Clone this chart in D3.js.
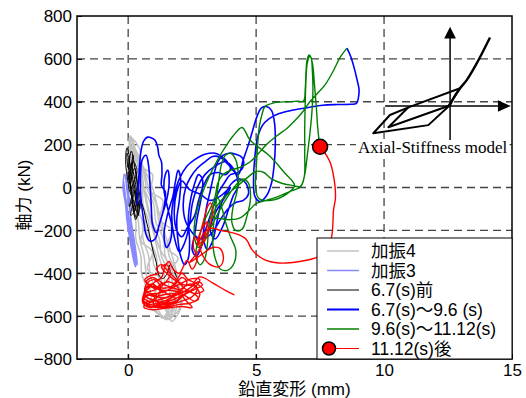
<!DOCTYPE html>
<html><head><meta charset="utf-8">
<script src="https://cdn.jsdelivr.net/npm/d3@7"></script>
<style>body{margin:0;background:#fff}</style>
</head><body><svg id="c" width="526" height="398"></svg>
<script>
const xTicks=[0,5,10,15];
const yTicks=[-800,-600,-400,-200,0,200,400,600,800];
const xGrid=[0,5,10];
const yGrid=[-600,-400,-200,0,200,400,600];
const seriesNames=["加振4","加振3","6.7(s)前","6.7(s)～9.6 (s)","9.6(s)～11.12(s)","11.12(s)後"];
const seriesColors=["#c2c2c2","#8888ff","#000000","#0000ff","#008000","#ff0000"];

const gray4=[
 [0.03,230],[0.1,150],[0.08,80],[0.18,0],[0.14,-80],[0.3,-160],[0.3,-240],[0.5,-320],[0.52,-400],[0.72,-470],[0.78,-540],[1.3,-600],
 [1.6,-610],[1.75,-540],[1.58,-470],[1.6,-400],[1.3,-320],[1.22,-240],[0.95,-160],[0.88,-80],[0.62,0],[0.52,80],[0.25,150],[0.12,235],
 [0.05,225],[0.25,150],[0.3,80],[0.55,0],[0.58,-80],[0.8,-160],[0.85,-240],[1.1,-320],[1.15,-400],[1.35,-470],[1.35,-540],[1.6,-590],
 [1.85,-590],[2.05,-540],[1.9,-470],[1.9,-400],[1.6,-320],[1.5,-240],[1.2,-160],[1.1,-80],[0.8,0],[0.62,80],[0.35,150],[0.15,230],
 [0.07,240],[0.18,150],[0.2,80],[0.36,0],[0.35,-80],[0.55,-160],[0.58,-240],[0.8,-320],[0.85,-400],[1.02,-470],[1.08,-540],[1.45,-615],
 [1.75,-600],[1.9,-540],[1.72,-470],[1.75,-400],[1.45,-320],[1.38,-240],[1.08,-160],[1.0,-80],[0.72,0],[0.58,80],[0.3,150],[0.1,225],
 [0.04,215],[0.12,150],[0.15,80],[0.25,0],[0.28,-80],[0.4,-160],[0.45,-240],[0.62,-320],[0.7,-400],[0.85,-470],[0.95,-540],[1.35,-610],
 [1.5,-600],[1.6,-540],[1.45,-470],[1.4,-400],[1.2,-320],[1.05,-240],[0.88,-160],[0.72,-80],[0.6,0],[0.42,80],[0.28,150],[0.1,240],
 [0.2,200],[0.4,150],[0.65,80],[0.95,0],[1.12,-80],[1.3,-160],[1.5,-240],[1.72,-320],[1.9,-400],[2.0,-470],[2.1,-540],[1.9,-600],
 [1.7,-625],[1.5,-560],[1.25,-500],[1.3,-430],[1.0,-360],[0.95,-280],[0.7,-200],[0.65,-120],[0.45,-40],[0.4,40],[0.18,120],[0.05,180],
 [0.2,100],[0.15,40],[0.4,-30],[0.3,-100],[0.65,-170],[0.5,-250],[0.95,-300],[0.75,-380],[1.3,-430],[1.05,-500],[1.6,-550],[1.4,-610],
 [1.8,-570],[1.6,-500],[2.05,-450],[1.7,-380],[1.95,-330],[1.5,-280],[1.7,-200],[1.25,-150],[1.35,-60],[0.9,-20],[0.95,60],[0.5,100],
 [0.45,180],[0.15,230],[0.28,170],[0.5,60],[0.7,-50],[1.0,-200],[1.25,-290],[1.55,-350],[1.7,-430],[1.85,-510],[1.55,-600]
];
const kashin3=[
 [-0.15,65],[-0.2,0],[-0.1,-80],[-0.05,-150],[0.05,-230],[0.15,-300],[0.28,-370],[0.3,-330],[0.2,-250],[0.1,-170],[0.05,-90],
 [-0.05,-10],[-0.1,60],[-0.05,20],[0.05,-60],[0.1,-140],[0.2,-220],[0.3,-300],[0.35,-360],[0.22,-320],[0.12,-240],[0.0,-150],
 [-0.12,-60],[-0.18,30],[-0.12,-30],[-0.02,-110],[0.08,-200],[0.2,-280],[0.25,-340]
];
const before67=[
 [0.0,20],[-0.1,120],[-0.05,185],[0.05,140],[0.0,60],[0.15,-20],[0.05,-90],[0.2,-40],[0.1,80],[0.2,150],[0.15,60],[0.3,-30],
 [0.2,-110],[0.35,-60],[0.25,40],[0.1,110],[0.05,30],[0.25,-80],[0.4,-130],[0.3,-20],[0.45,-100],[0.3,60],[0.12,170],[0.0,90],
 [-0.05,160],[0.08,100],[0.02,0],[0.18,-60],[0.1,-130],[0.3,-100],[0.22,20],[0.35,80],[0.2,120],[0.08,50],[0.15,-40],[0.32,-140],
 [0.48,-80],[0.38,10],[0.25,90],[0.1,30],[0.3,-150],[0.45,-60],[0.55,-80],[0.7,-150],[0.85,-230],[0.98,-300],[1.1,-350],
 [1.2,-410],[1.35,-425],[1.5,-405],[1.65,-360],[1.8,-390],[1.9,-420]
];
const mid=[
 [0.35,-80],[0.4,20],[0.45,110],[0.5,170],[0.6,215],[0.75,235],[0.9,232],[1.05,220],[1.15,190],[1.2,150],[1.3,120],[1.32,60],
 [1.3,10],[1.45,-20],[1.4,-90],[1.25,-160],[1.1,-210],[0.95,-170],[0.9,-80],[0.85,20],[0.8,100],[0.7,150],[0.55,130],[0.48,50],
 [0.5,-50],[0.6,-150],[0.7,-220],[0.85,-250],[1.05,-240],[1.2,-180],[1.35,-120],[1.5,-60],[1.6,20],[1.55,80],[1.45,60],[1.4,-10],
 [1.55,-100],[1.7,-180],[1.65,-250],[1.5,-280],[1.4,-220],[1.55,-120],[1.75,-40],[1.85,30],[1.95,80],[2.05,40],[2.0,-60],
 [1.9,-150],[1.95,-250],[2.05,-320],[2.2,-360],[2.35,-330],[2.4,-250],[2.35,-150],[2.45,-50],[2.6,20],[2.75,60],[2.9,40],
 [2.85,-50],[2.7,-140],[2.6,-220],[2.5,-290],[2.65,-320],[2.85,-280],[2.95,-200],[3.05,-100],[3.2,-20],[3.35,60],[3.5,120],
 [3.7,150],[3.95,160],[4.2,155],[4.45,140],[4.5,100],[4.3,70],[4.0,60],[3.75,20],[3.5,-30],[3.3,-100],[3.1,-170],[2.95,-240],
 [3.1,-290],[3.3,-250],[3.45,-170],[3.6,-90],[3.8,-30],[4.05,20],[4.35,40],[4.6,20],[4.7,-30],[4.5,-60],[4.2,-70],[3.9,-100],
 [3.6,-150],[3.35,-200],[3.1,-230],[2.8,-240],[2.5,-210],[2.25,-160],[2.15,-80],[2.25,0],[2.45,50],[2.7,90],[3.0,120],[3.3,145],
 [3.6,140],[3.85,115],[4.0,90],[3.8,60],[3.5,70],[3.2,60],[2.95,10],[2.75,-60],[2.6,-130],[2.3,-190],[2.1,-230],[1.9,-200],
 [1.8,-120],[1.9,-20],[2.1,30],[2.4,-10],[2.8,-30],[3.2,-60],[3.6,-40],[4.0,0],
 [3.7,-60],[3.4,-120],[3.2,-200],[3.4,-240],[3.7,-180],[3.9,-110],[4.1,-40],[4.3,10],[4.1,90],[3.8,120],[3.4,100],[3.0,60],
 [2.7,0],[2.5,-80],[2.4,-170],[2.2,-260],[2.0,-300],[1.8,-230],[1.7,-130],[1.8,-40],[2.0,40],[2.3,100],[2.6,130],[3.0,155],
 [3.4,160],[3.8,130],[4.1,80],
 [4.3,60],[4.5,130],[4.7,200],[4.85,260],[5.0,320],
 [5.2,370],[5.4,378],[5.6,360],[5.72,300],[5.75,200],[5.7,100],[5.6,20],[5.4,-40],[5.15,-65],[4.95,-40],[4.9,40],[4.95,140],
 [5.05,230],[5.25,290],[5.5,320],[5.9,345],[6.4,360],[7.0,372],[7.6,384],[8.2,387],[8.7,388],[8.92,392],[9.0,420],[9.02,460],
 [8.95,500],[8.85,550],[8.7,610],[8.55,650]
];
const late=[
 [8.55,650],[8.3,610],[8.0,540],[7.7,480],[7.4,440],[7.1,400],[6.8,350],[6.5,310],[6.2,275],[5.8,240],[5.4,200],[5.1,160],
 [4.77,120],[4.4,95],[4.0,80],[3.7,60],[3.5,20],[3.4,-40],[3.2,-100],[3.0,-150],[2.85,-200],[2.7,-260],[2.65,-320],[2.8,-360],
 [3.0,-330],[3.1,-260],[3.15,-180],[3.3,-100],[3.5,-50],[3.65,-90],[3.8,-160],[4.0,-230],[4.2,-290],[4.15,-350],[3.9,-385],
 [3.6,-380],[3.4,-330],[3.3,-250],[3.35,-160],[3.45,-60],[3.55,40],[3.65,110],[3.8,150],[4.0,160],[4.2,130],[4.3,60],[4.25,-20],
 [4.1,-90],[4.05,-160],[4.2,-200],[4.45,-195],[4.65,-130],[4.78,-50],[4.7,20],[4.5,40],[4.2,10],[3.9,-40],[3.6,-100],[3.3,-170],
 [3.0,-230],[2.75,-280],[2.6,-240],[2.6,-160],[2.75,-80],[2.95,-10],[3.2,60],[3.5,130],[3.8,190],[4.1,240],[4.45,280],[4.77,220],
 [5.5,150],[6.1,70],[6.5,10],[6.2,-30],[5.6,-60],[5.1,-50],[4.98,0],[5.0,80],[5.05,180],[5.12,280],[5.25,350],[5.35,378],
 [5.7,395],[6.2,400],[6.6,402],[6.85,403],[6.92,460],[6.95,540],[7.0,600],[7.07,618],[7.15,605],[7.2,540],[7.22,450],[7.18,350],
 [7.1,250],[7.0,150],[6.9,60],[6.75,5],[6.4,-15],[5.9,-40],[5.4,-60],[5.0,-75],[4.7,-110],[4.4,-140],[4.0,-150],[3.6,-145],
 [3.3,-137],[3.45,-90],[3.8,-40],[4.2,0],[4.6,40],[5.0,75],[5.3,70],[5.6,40],[6.0,20],[6.4,10],[6.72,5],[6.88,50],[6.9,150],
 [6.9,280],[6.92,400],[6.95,500],[7.0,580],[7.1,612],[7.2,580],[7.28,480],[7.35,380],[7.4,290],[7.45,230],[7.5,190]
];
const after=[
 [7.5,190],[7.75,150],[7.9,115],[8.0,70],[8.08,10],[8.1,-50],[8.02,-110],[8.0,-170],[7.95,-230],[7.75,-290],[7.4,-325],
 [6.7,-345],[5.9,-352],[5.3,-335],[4.85,-292],[4.6,-240],[4.2,-215],[3.6,-200],[3.25,-190],[2.95,-215],[2.7,-270],[2.85,-200],
 [3.0,-130],[3.12,-85],[3.22,-72],[3.3,-115],[3.2,-175],[3.05,-235],[2.8,-285],[2.6,-320],[2.4,-350],
 [2.9,-310],[3.3,-280],[3.6,-285],[3.72,-335],[3.55,-370],[3.15,-355],[2.85,-300],[2.75,-240],[2.9,-190],[3.1,-160],[3.0,-220],
 [2.8,-260],[2.6,-230],[2.55,-280],[2.7,-330],[2.5,-380],[2.3,-340],
 [2.0,-400],[1.75,-380],[1.6,-345],[1.45,-365],[1.3,-420],[1.05,-440],[0.8,-470],[0.6,-500],[0.58,-540],
 [0.75,-555],[1.1,-550],[1.5,-535],[1.9,-515],[2.3,-490],[2.65,-460],[2.8,-430],[2.5,-425],[2.1,-445],[1.7,-470],[1.3,-490],
 [0.9,-495],[0.65,-480],[0.75,-445],[1.0,-430],[1.25,-460],[1.15,-510],[0.85,-530],[0.62,-515],[0.7,-470],[1.0,-460],[1.4,-470],
 [1.8,-455],[2.1,-420],[2.3,-440],[2.0,-490],[1.6,-520],[1.2,-540],[0.9,-560],[0.65,-550],[0.6,-520],[0.9,-500],[1.3,-515],
 [1.7,-505],[2.1,-470],[2.45,-450],[2.7,-470],[2.5,-510],[2.1,-530],[1.7,-545],[1.3,-555],[1.0,-545],[1.1,-500],[1.5,-480],
 [1.9,-485],[2.3,-510],[2.6,-530],[2.8,-500],[2.6,-460],[2.2,-455],[1.8,-430],[1.5,-400],[1.3,-370],[1.5,-360],[1.65,-400],
 [1.4,-450],[1.0,-480],[0.7,-490],[0.62,-530],[0.9,-545],[1.35,-530],[1.85,-520],
 [0.7,-440],[0.95,-420],[1.2,-435],[1.45,-455],[1.8,-470],[2.15,-485],[2.5,-490],[2.75,-520],[2.4,-540],[2.0,-545],[1.6,-555],
 [1.2,-560],[0.8,-550],[0.6,-525],[0.75,-500],[1.05,-510],[1.4,-500],[1.75,-495],[2.05,-505],[1.85,-530],[1.45,-540],[1.05,-530],
 [0.7,-535],[0.62,-560],[0.95,-570],[1.35,-565],[1.7,-560],[2.1,-555],[2.5,-560],[2.2,-520],[1.9,-460],[1.6,-440],[1.3,-450],
 [1.05,-470],[0.8,-455],[0.65,-430],[0.9,-410],[1.2,-400],[1.1,-380],[1.3,-360],[1.55,-390],[1.9,-430],[2.2,-470],[2.6,-495],
 [2.95,-480],[2.7,-450],[2.35,-430],
 [2.1,-400],[1.85,-440],[1.55,-480],[1.25,-475],[0.95,-450],[0.72,-465],[0.68,-505],[0.85,-520],[1.2,-525],[1.55,-510],
 [1.95,-500],[2.4,-470],[2.75,-440],[2.9,-455],[2.6,-475],[2.2,-500],[1.8,-540],[1.4,-545],[1.0,-555],[0.7,-545],
 [2.3,-480],[2.8,-417],[3.3,-445],[3.8,-480],[4.15,-501]
];
const markerPt=[[7.5,190]];
// inset schematic (Axial-Stiffness model), in axis units
const insetStiff=[[14.14,700],[13.62,579],[13.23,501],[12.97,463],[12.71,416],[12.58,385]];
const insetOuter=[[12.58,385],[11.73,291],[9.58,253],[10.23,338],[10.95,374],[12.97,463]];
const insetInner=[[10.95,374],[10.17,281],[12.51,380],[12.97,463]];
const insetVAxis=[[12.58,221],[12.58,700]];
const insetVHead=[[12.58,750],[12.35,695],[12.81,695]];
const insetHAxis=[[10.04,380],[14.45,380]];
const insetHHead=[[14.95,380],[14.45,407],[14.45,353]];
const insetLabel={text:"Axial-Stiffness model",x:8.98,y:161};

const svg=d3.select("#c");
const L=77,R=512,T=16,B=359;
const x=d3.scaleLinear([-2,15],[L,R]);
const y=d3.scaleLinear([-800,800],[B,T]);
const FONT="'Liberation Sans','Noto Sans CJK JP',Arial,sans-serif";

// grid
const g=svg.append("g");
g.selectAll(".gx").data(xGrid).join("line").attr("x1",d=>x(d)).attr("x2",d=>x(d)).attr("y1",T).attr("y2",B)
 .attr("stroke","#444").attr("stroke-width",1.3).attr("stroke-dasharray","8,5");
g.selectAll(".gy").data(yGrid).join("line").attr("y1",d=>y(d)).attr("y2",d=>y(d)).attr("x1",L).attr("x2",R)
 .attr("stroke","#444").attr("stroke-width",1.3).attr("stroke-dasharray","8,5");

svg.append("clipPath").attr("id","pc").append("rect").attr("x",L).attr("y",T).attr("width",R-L).attr("height",B-T);
const line=d3.line().x(d=>x(d[0])).y(d=>y(d[1])).curve(d3.curveCatmullRom.alpha(0.5));
const dataG=svg.append("g").attr("clip-path","url(#pc)");
const series=[gray4,kashin3,before67,mid,late,after];
const widths=[1.5,1.6,1.0,1.6,1.4,1.4];
series.forEach((s,i)=>{
 dataG.append("path").attr("d",line(s)).attr("fill","none").attr("stroke",seriesColors[i])
  .attr("stroke-width",widths[i]).attr("stroke-linejoin","round");
});
dataG.selectAll(".mk").data(markerPt).join("circle").attr("cx",d=>x(d[0])).attr("cy",d=>y(d[1])).attr("r",7.5)
 .attr("fill","#ff0000").attr("stroke","#000").attr("stroke-width",1.5);

// inset
const lin=d3.line().x(d=>x(d[0])).y(d=>y(d[1]));
const ig=svg.append("g");
const lbl=ig.append("text").attr("x",x(insetLabel.x)).attr("y",y(insetLabel.y)).text(insetLabel.text)
 .attr("font-family","'Liberation Serif','Times New Roman',serif").attr("font-size",17).attr("fill","#000");
const bb=lbl.node().getBBox();
ig.insert("rect","text").attr("x",bb.x-2).attr("y",bb.y+1).attr("width",bb.width+4).attr("height",bb.height-2).attr("fill","#fff");
[insetVAxis,insetHAxis].forEach(a=>ig.append("path").attr("d",lin(a)).attr("stroke","#000").attr("stroke-width",1.5).attr("fill","none"));
[insetVHead,insetHHead].forEach(a=>ig.append("path").attr("d",lin(a)+"Z").attr("fill","#000"));
[insetOuter,insetInner].forEach(a=>ig.append("path").attr("d",lin(a)).attr("stroke","#000").attr("stroke-width",2).attr("fill","none").attr("stroke-linejoin","round"));
ig.append("path").attr("d",line(insetStiff)).attr("stroke","#000").attr("stroke-width",2.4).attr("fill","none");

// axes
const ax=svg.append("g").attr("transform",`translate(0,${B})`).call(d3.axisBottom(x).tickValues(xTicks).tickSizeInner(-5).tickSizeOuter(0).tickPadding(5));
const ay=svg.append("g").attr("transform",`translate(${L},0)`).call(d3.axisLeft(y).tickValues(yTicks).tickSizeInner(-5).tickSizeOuter(0).tickPadding(5));
[ax,ay].forEach(a=>{a.select(".domain").remove();a.selectAll("text").attr("font-family","'Liberation Sans',Arial,sans-serif").attr("font-size",17).attr("fill","#000");a.selectAll("line").attr("stroke","#000");});
ay.selectAll(".tick text").attr("dy","0.35em");
svg.append("rect").attr("x",L).attr("y",T).attr("width",R-L).attr("height",B-T).attr("fill","none").attr("stroke","#000").attr("stroke-width",1.5);

// titles
svg.append("text").attr("x",(L+R)/2).attr("y",394.6).attr("text-anchor","middle").text("鉛直変形 (mm)")
 .attr("font-family",FONT).attr("font-size",17);
svg.append("text").attr("transform","translate(24,195) rotate(-90)").attr("text-anchor","middle").attr("dominant-baseline","central")
 .text("軸力 (kN)").attr("font-family",FONT).attr("font-size",17);

// legend
const lg=svg.append("g");
lg.append("rect").attr("x",317).attr("y",238).attr("width",195).attr("height",121).attr("fill","#fff").attr("stroke","#000").attr("stroke-width",1);
const lw=[1.5,1.5,1,2,1.5,1];
seriesNames.forEach((n,i)=>{
 const yy=251+i*19.5;
 lg.append("line").attr("x1",327).attr("x2",359).attr("y1",yy).attr("y2",yy).attr("stroke",seriesColors[i]).attr("stroke-width",lw[i]);
 if(i===5) lg.append("circle").attr("cx",329).attr("cy",yy).attr("r",6.5).attr("fill","#ff0000").attr("stroke","#000").attr("stroke-width",1.5);
 lg.append("text").attr("x",371).attr("y",yy).attr("dominant-baseline","central").text(n)
  .attr("font-family",FONT).attr("font-size",17.5);
});
</script></body></html>
